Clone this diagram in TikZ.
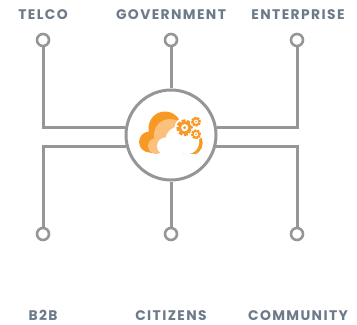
\documentclass[tikz,border=0pt]{standalone}
\usepackage{fontspec}
\setmainfont{Poppins}
\newfontfamily\tagfont[LetterSpace=10]{Poppins}
\usepackage{xcolor}
\usetikzlibrary{positioning,calc}
\definecolor{wire}{RGB}{150, 150, 152}
\definecolor{slate}{RGB}{108, 122, 137}
\definecolor{cloudA}{RGB}{248, 153, 38}
\definecolor{cloudB}{RGB}{252, 192, 125}

\tikzset{
  dot/.style={circle, draw=wire, line width=2.6*0.02cm, fill=white, minimum size=12*0.02cm, inner sep=0pt},
  hubring/.style={circle, draw=wire, line width=3*0.02cm, minimum size=90*0.02cm, inner sep=0pt},
  wireline/.style={draw=wire, line width=3*0.02cm},
  tag/.style={text=slate, font=\tagfont\fontsize{7.9}{9}\selectfont\bfseries, inner sep=0pt, anchor=mid}
}
\newcommand{\gearicon}[3]{
  \fill[white] (#1,#2) circle ({#3*1.3});
  \foreach \a in {0,45,...,315}
    \fill[cloudA, rotate around={\a+10:(#1,#2)}] (#1-#3*.26,#2) rectangle (#1+#3*.26,#2+#3*1.05);
  \fill[cloudA] (#1,#2) circle ({#3*.78});
  \fill[white] (#1,#2) circle ({#3*.46});
  \fill[cloudA] (#1,#2) circle ({#3*.2});
}

\begin{document}
\begin{tikzpicture}[x=0.02cm,y=-0.02cm]
      \useasboundingbox (0,0) rectangle (357,324);

      \node[hubring] (hub) at (171,135) {};

      % top row
      \node[dot] (telcodot) at (43,40) {};
      \node[dot] (govdot) at (171,40) {};
      \node[dot] (entdot) at (297,40) {};

      % bottom row
      \node[dot] (b2bdot) at (43,234) {};
      \node[dot] (citdot) at (171,234) {};
      \node[dot] (comdot) at (297,234) {};

      \draw[wireline] (telcodot.south) |- (hub.171);
      \draw[wireline] (govdot.south) -- (hub.north);
      \draw[wireline] (entdot.south) |- (hub.9);
      \draw[wireline] (b2bdot.north) |- (hub.194);
      \draw[wireline] (citdot.north) -- (hub.south);
      \draw[wireline] (comdot.north) |- (hub.346);

      \node[tag] (telco) at (43,15) {TELCO};
      \node[tag] (gov) at (171,15) {GOVERNMENT};
      \node[tag] (ent) at (298,15) {ENTERPRISE};
      \node[tag] (b2b) at (43,316) {B2B};
      \node[tag] (cit) at (171,316) {CITIZENS};
      \node[tag] (com) at (298,316) {COMMUNITY};

      % cloud
      \begin{scope}
        \clip (130,100) rectangle (210,153);
        \fill[cloudA] (149.5,142) circle (10.5);
        \fill[cloudA] (165,128) circle (16.5);
        \fill[cloudA] (150,142) rectangle (172,153);
        \fill[cloudB] (156,146) circle (8);
        \fill[cloudB] (170,135) circle (16);
        \fill[cloudB] (156,146) rectangle (175,153);
        \fill[white] (165.5,146) circle (8.5);
        \fill[white] (179,140) circle (13.5);
        \fill[white] (165.5,146) rectangle (192,153);
        \begin{scope}
          \clip (180,136) rectangle (210,153);
          \fill[cloudA] (190,143) circle (12.7);
          \fill[white] (187,142) circle (12.3);
        \end{scope}
      \end{scope}
      \gearicon{184.7}{127.7}{7.8}
      \gearicon{196}{121.7}{4.6}
      \gearicon{196}{134.3}{4.6}
    \end{tikzpicture}
\end{document}
